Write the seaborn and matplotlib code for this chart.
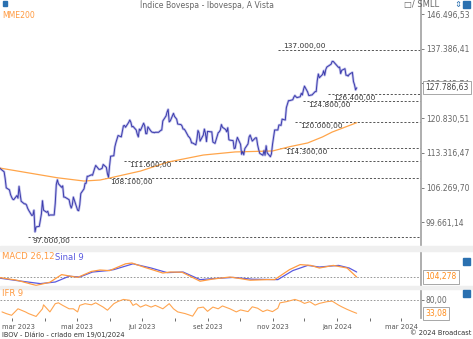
import matplotlib
matplotlib.use("Agg")
import matplotlib.pyplot as plt
import matplotlib.patches as mpatches
from matplotlib.ticker import NullLocator, FixedLocator
from matplotlib.transforms import ScaledTranslation
import numpy as np
import pandas as pd
import seaborn as sns

# ---------------- data ----------------
# daily closes, in thousand points, per month
feb23_days = [17, 22, 23, 24, 27, 28]
feb23_close = [110.3, 109.4, 108.0, 106.2, 105.8, 104.9]
mar23_days = [1, 2, 3, 6, 7, 8, 9, 10, 13, 14, 15, 16, 17, 20, 21, 22, 23, 24, 27, 28, 29, 30, 31]
mar23_close = [104.4, 104.0, 103.9, 104.7, 104.2, 106.5, 105.1, 103.6, 103.1, 103.1, 102.9, 102.3,
               101.9, 100.9, 101.0, 101.9, 97.9, 98.8, 98.9, 100.0, 101.2, 103.7, 101.9]
apr23_days = [3, 4, 5, 6, 10, 11, 12, 13, 14, 17, 18, 19, 20, 24, 25, 26, 27, 28]
apr23_close = [101.5, 101.7, 100.9, 101.0, 101.0, 103.2, 106.9, 107.8, 107.0, 106.3, 106.6, 104.4,
               104.4, 103.9, 102.9, 102.3, 102.9, 104.4]
may23_days = [2, 3, 4, 5, 8, 9, 10, 11, 12, 15, 16, 17, 18, 19, 22, 23, 24, 25, 26, 29, 30, 31]
may23_close = [101.9, 101.8, 102.9, 105.1, 106.0, 107.1, 107.1, 108.5, 108.5, 108.8, 108.7, 109.4,
               110.1, 110.7, 109.9, 109.9, 110.0, 110.1, 110.9, 110.3, 109.0, 108.3]
jun23_days = [1, 2, 5, 6, 7, 9, 12, 13, 14, 15, 16, 19, 20, 21, 22, 23, 26, 27, 28, 29, 30]
jun23_close = [110.6, 112.6, 112.7, 114.6, 115.5, 117.0, 116.7, 117.9, 119.1, 119.2, 118.8, 119.9,
               120.4, 119.9, 118.9, 119.0, 118.2, 117.3, 116.7, 118.4, 118.1]
jul23_days = [3, 4, 5, 6, 7, 10, 11, 12, 13, 14, 17, 18, 19, 20, 21, 24, 25, 26, 27, 28, 31]
jul23_close = [119.7, 119.1, 117.4, 117.4, 118.9, 117.9, 117.7, 117.7, 117.6, 117.7, 117.7, 117.9,
               118.1, 118.2, 120.2, 121.3, 122.2, 122.8, 120.0, 120.2, 121.9]
aug23_days = [1, 2, 3, 4, 7, 8, 9, 10, 11, 14, 15, 16, 17, 18, 21, 22, 23, 24, 25, 28, 29, 30, 31]
aug23_close = [121.2, 120.9, 120.6, 119.5, 119.4, 119.1, 118.4, 118.4, 118.1, 116.8, 116.6, 116.2,
               115.4, 115.4, 115.0, 116.2, 118.1, 117.6, 115.8, 117.1, 118.4, 117.5, 115.7]
sep23_days = [1, 4, 5, 6, 8, 11, 12, 13, 14, 15, 18, 19, 20, 21, 22, 25, 26, 27, 28, 29]
sep23_close = [117.9, 117.8, 117.8, 115.6, 115.3, 117.6, 117.8, 118.2, 119.4, 118.8, 118.3, 117.8,
               118.7, 116.1, 116.0, 115.9, 114.2, 114.3, 115.7, 116.6]
oct23_days = [2, 3, 4, 5, 6, 9, 10, 11, 13, 16, 17, 18, 19, 20, 23, 24, 25, 26, 27, 30, 31]
oct23_close = [115.1, 113.0, 113.6, 112.9, 114.2, 115.2, 116.7, 117.1, 115.8, 116.5, 116.5, 115.0,
               114.0, 113.2, 112.8, 113.8, 112.8, 114.8, 113.3, 112.5, 113.1]
nov23_days = [1, 3, 6, 7, 8, 9, 10, 13, 14, 16, 17, 20, 21, 22, 23, 24, 27, 28, 29, 30]
nov23_close = [115.1, 118.2, 118.2, 119.3, 119.3, 119.2, 120.6, 120.4, 123.2, 124.8, 124.8, 125.0,
               125.6, 126.0, 125.7, 125.5, 125.7, 126.5, 126.1, 127.3]
dec23_days = [1, 4, 5, 6, 7, 8, 11, 12, 13, 14, 15, 18, 19, 20, 21, 22, 26, 27, 28]
dec23_close = [128.2, 126.8, 126.0, 126.0, 126.1, 126.1, 126.9, 126.9, 129.5, 131.1, 130.2, 131.0,
               131.9, 130.8, 132.2, 132.8, 133.5, 134.2, 134.2]
jan24_days = [2, 3, 4, 5, 8, 9, 10, 11, 12, 15, 16, 17, 18, 19]
jan24_close = [132.7, 132.8, 131.2, 132.0, 132.4, 130.8, 130.8, 130.6, 131.0, 131.5, 129.3, 128.5,
               127.3, 127.78663]

# 200-day exponential moving average
mme_dates = ["2023-02-17", "2023-04-13", "2023-05-08", "2023-05-23", "2023-06-01", "2023-06-30",
             "2023-07-26", "2023-08-28", "2023-09-27", "2023-11-01", "2023-11-17", "2023-12-04",
             "2023-12-18", "2023-12-27", "2024-01-19"]
mme_values = [110200, 108200, 107550, 107750, 108150, 109550, 111400, 112850, 113500, 113700,
              114600, 115400, 116700, 117750, 119800]

# support / resistance levels and where they start
level_values = [137000, 126400, 124800, 120000, 114300, 111600, 108100, 97000]
level_start = ["2023-11-06", "2023-12-23", "2023-11-30", "2023-11-22", "2023-11-08",
               "2023-06-15", "2023-05-28", "2023-03-16"]
level_label_above = [True, False, False, False, False, False, False, False]

# right axis ticks
price_ticks = [99661.14, 106269.70, 113316.47, 120830.51, 128842.74, 137386.41, 146496.53]
last_price = 127786.63

# MACD 26,12 and signal 9
macd_dates = ["2023-02-17", "2023-03-06", "2023-03-24", "2023-04-06", "2023-04-17", "2023-05-02",
              "2023-05-15", "2023-05-23", "2023-06-01", "2023-06-16", "2023-06-22", "2023-07-03",
              "2023-07-21", "2023-07-28", "2023-08-08", "2023-08-25", "2023-09-06", "2023-09-22",
              "2023-10-02", "2023-10-11", "2023-10-27", "2023-11-03", "2023-11-17", "2023-11-27",
              "2023-12-07", "2023-12-15", "2023-12-28", "2024-01-10", "2024-01-19"]
macd_values = [0, -700, -2000, -1200, 700, 0, 1500, 1850, 1700, 3400, 3600, 2600, 1100, 1350, 1300,
               -950, -400, 100, -300, -700, -550, -550, 1950, 3200, 3000, 2350, 3000, 2350, 104.278]
signal_dates = ["2023-02-17", "2023-03-09", "2023-03-28", "2023-04-11", "2023-04-24", "2023-05-04",
                "2023-05-16", "2023-05-30", "2023-06-05", "2023-06-23", "2023-07-10", "2023-07-25",
                "2023-08-09", "2023-08-25", "2023-09-06", "2023-09-25", "2023-10-13", "2023-11-06",
                "2023-11-20", "2023-12-04", "2023-12-15", "2024-01-02", "2024-01-12", "2024-01-19"]
signal_values = [-150, -900, -1550, -1150, 300, 100, 1350, 1700, 1950, 3400, 2350, 1200, 1350, -550,
                 -300, 0, -450, -550, 1700, 3000, 2600, 3000, 2350, 1350]
macd_last = 104.278

# IFR 9
ifr_dates = ["2023-02-20", "2023-02-24", "2023-03-01", "2023-03-07", "2023-03-14", "2023-03-17",
             "2023-03-24", "2023-03-30", "2023-03-31", "2023-04-06", "2023-04-11", "2023-04-14",
             "2023-04-18", "2023-04-24", "2023-04-28", "2023-05-02", "2023-05-04", "2023-05-09",
             "2023-05-15", "2023-05-19", "2023-05-26", "2023-05-30", "2023-06-05", "2023-06-09",
             "2023-06-14", "2023-06-20", "2023-06-23", "2023-06-26", "2023-06-30", "2023-07-05",
             "2023-07-10", "2023-07-14", "2023-07-21", "2023-07-27", "2023-07-31", "2023-08-04",
             "2023-08-11", "2023-08-18", "2023-08-23", "2023-08-28", "2023-09-01", "2023-09-06",
             "2023-09-11", "2023-09-15", "2023-09-22", "2023-09-28", "2023-10-02", "2023-10-09",
             "2023-10-13", "2023-10-18", "2023-10-23", "2023-10-27", "2023-11-01", "2023-11-06",
             "2023-11-08", "2023-11-14", "2023-11-20", "2023-11-22", "2023-11-27", "2023-12-01",
             "2023-12-06", "2023-12-11", "2023-12-15", "2023-12-22", "2023-12-27", "2024-01-02",
             "2024-01-05", "2024-01-10", "2024-01-15", "2024-01-19"]
ifr_values = [38, 32, 26, 49, 38, 32, 22, 49, 63, 38, 67, 70, 61, 49, 49, 38, 61, 67, 63, 70, 55, 44,
              67, 75, 82, 79, 61, 67, 55, 63, 55, 61, 49, 67, 49, 38, 32, 23, 52, 55, 40, 55, 49, 59,
              49, 38, 45, 39, 56, 51, 39, 45, 39, 51, 70, 74, 80, 82, 76, 68, 74, 62, 68, 74, 76, 62,
              56, 47, 39, 33.08]
ifr_level = 80

x_tick_dates = ["2023-03-01", "2023-04-01", "2023-05-01", "2023-06-01", "2023-07-01", "2023-08-01",
                "2023-09-01", "2023-10-01", "2023-11-01", "2023-12-01", "2024-01-01", "2024-02-01",
                "2024-03-01"]
x_tick_labels = ["mar 2023", "", "mai 2023", "", "jul 2023", "", "set 2023", "", "nov 2023", "",
                 "jan 2024", "", "mar 2024"]

# ---------------- frames ----------------
months = [("2023-02", feb23_days, feb23_close), ("2023-03", mar23_days, mar23_close),
          ("2023-04", apr23_days, apr23_close), ("2023-05", may23_days, may23_close),
          ("2023-06", jun23_days, jun23_close), ("2023-07", jul23_days, jul23_close),
          ("2023-08", aug23_days, aug23_close), ("2023-09", sep23_days, sep23_close),
          ("2023-10", oct23_days, oct23_close), ("2023-11", nov23_days, nov23_close),
          ("2023-12", dec23_days, dec23_close), ("2024-01", jan24_days, jan24_close)]
rows = []
for ym, ds, cs in months:
    for d, c in zip(ds, cs):
        rows.append((pd.Timestamp(f"{ym}-{d:02d}"), c * 1000.0))
price = pd.DataFrame(rows, columns=["date", "close"])
mme = pd.DataFrame({"date": pd.to_datetime(mme_dates), "v": mme_values})
macd = pd.DataFrame({"date": pd.to_datetime(macd_dates), "v": macd_values})
sig = pd.DataFrame({"date": pd.to_datetime(signal_dates), "v": signal_values})
ifr = pd.DataFrame({"date": pd.to_datetime(ifr_dates), "v": ifr_values})


def br(v, nd=2):
    s = f"{v:,.{nd}f}"
    return s.replace(",", "_").replace(".", ",").replace("_", ".")


# ---------------- figure ----------------
sns.set_theme(style="white")
plt.rcParams["font.family"] = ["DejaVu Sans"]

W, H = 473, 339
fig = plt.figure(figsize=(W / 100, H / 100), dpi=100)
fig.patch.set_facecolor("white")


def rect(x0, y0, x1, y1):
    return [x0 / W, 1 - y1 / H, (x1 - x0) / W, (y1 - y0) / H]


ax = fig.add_axes(rect(0, 0, 421, 246))
axm = fig.add_axes(rect(0, 251, 421, 286), sharex=ax)
axi = fig.add_axes(rect(0, 289, 421, 318), sharex=ax)

# grey separator bands
for y0, y1 in [(246, 251), (286, 289)]:
    fig.patches.append(mpatches.Rectangle((0, 1 - y1 / H), 1, (y1 - y0) / H,
                                          transform=fig.transFigure, color="#efefef", zorder=0))

BLUE = "#3c3cac"
LAV = "#c2c2ec"
ORANGE = "#ffa54a"
GREY = "#666666"
AXC = "#a8a8a8"

xmin = pd.Timestamp("2023-02-18 03:00")
xmax = pd.Timestamp("2024-03-19 10:00")

# --- main price panel ---
ax.set_yscale("log")
sns.lineplot(data=price, x="date", y="close", ax=ax, color=LAV, lw=1.8, zorder=2)
sns.lineplot(data=price, x="date", y="close", ax=ax, color=BLUE, lw=0.7, zorder=3)
sns.lineplot(data=mme, x="date", y="v", ax=ax, color=ORANGE, lw=0.9, zorder=2.5)

for v, st, above in zip(level_values, level_start, level_label_above):
    s = pd.Timestamp(st)
    ax.hlines(v, s, xmax, colors="#555555", linestyles=(0, (2.2, 1.8)), lw=0.7, zorder=1)
    ax.annotate(br(v), xy=(s, v), xytext=(3.5, 0.6 if above else -0.8), textcoords="offset points",
                va="bottom" if above else "top", ha="left", fontsize=5.3, color="#333333")

ax.set_ylim(95368, 150341)
ax.set_xlim(xmin, xmax)
ax.yaxis.tick_right()
ax.yaxis.set_major_locator(FixedLocator(price_ticks))
ax.yaxis.set_minor_locator(NullLocator())
ax.set_yticklabels([br(t) for t in price_ticks])
ax.tick_params(axis="y", labelsize=5.5, colors=GREY, length=2, width=0.6, pad=1.5, direction="out")
ax.tick_params(axis="x", bottom=False, labelbottom=False)
ax.set_xlabel("")
ax.set_ylabel("")
for sp in ["top", "left", "bottom"]:
    ax.spines[sp].set_visible(False)
ax.spines["right"].set_color(AXC)
ax.spines["right"].set_linewidth(1.3)
ax.annotate(br(last_price), xy=(1.0, last_price), xycoords=("axes fraction", "data"),
            xytext=(3.2, 0), textcoords="offset points", va="center", ha="left", fontsize=5.5,
            color="#444444", annotation_clip=False, zorder=10,
            bbox=dict(boxstyle="square,pad=0.28", fc="white", ec="#999999", lw=0.6))

# --- MACD panel ---
sns.lineplot(data=sig, x="date", y="v", ax=axm, color="#5a5ae0", lw=0.9)
sns.lineplot(data=macd, x="date", y="v", ax=axm, color="#ff9a40", lw=0.9)
axm.axhline(macd_last, color="#888888", ls=(0, (2, 2)), lw=0.6, zorder=0)
axm.set_ylim(-2146, 6604)
axm.set_yticks([])
axm.set_xlabel("")
axm.set_ylabel("")
axm.tick_params(axis="x", bottom=False, labelbottom=False)
for sp in ["top", "left", "bottom"]:
    axm.spines[sp].set_visible(False)
axm.spines["right"].set_color(AXC)
axm.spines["right"].set_linewidth(1.3)
axm.annotate(br(macd_last, 3), xy=(1.0, macd_last), xycoords=("axes fraction", "data"),
             xytext=(3.2, 0), textcoords="offset points", va="center", ha="left", fontsize=5.5,
             color="#ff8c1a", annotation_clip=False,
             bbox=dict(boxstyle="square,pad=0.28", fc="white", ec="#999999", lw=0.6))

# --- IFR panel ---
sns.lineplot(data=ifr, x="date", y="v", ax=axi, color="#ffa550", lw=0.8)
axi.axhline(ifr_level, color="#888888", ls=(0, (2, 2)), lw=0.6, zorder=0)
axi.set_ylim(16.5, 118.8)
axi.yaxis.tick_right()
axi.set_yticks([ifr_level])
axi.set_yticklabels([br(ifr_level)])
axi.tick_params(axis="y", labelsize=5.5, colors=GREY, length=2, width=0.6, pad=1.5)
axi.set_xticks(pd.to_datetime(x_tick_dates))
axi.set_xticklabels(x_tick_labels)
axi.tick_params(axis="x", labelsize=4.9, colors="#555555", length=2.2, width=0.6, pad=1.8,
                direction="out", bottom=True)
first_lbl = axi.get_xticklabels()[0]
first_lbl.set_transform(first_lbl.get_transform() + ScaledTranslation(0.07, 0, fig.dpi_scale_trans))
axi.set_xlim(xmin, xmax)
axi.set_xlabel("")
axi.set_ylabel("")
for sp in ["top", "left", "bottom"]:
    axi.spines[sp].set_visible(False)
axi.spines["right"].set_color(AXC)
axi.spines["right"].set_linewidth(1.3)
axi.annotate(br(ifr_values[-1]), xy=(1.0, ifr_values[-1]), xycoords=("axes fraction", "data"),
             xytext=(3.2, 0), textcoords="offset points", va="center", ha="left", fontsize=5.5,
             color="#ff8c1a", annotation_clip=False,
             bbox=dict(boxstyle="square,pad=0.28", fc="white", ec="#999999", lw=0.6))

# --- texts & small icons ---
def ftext(x, y, s, **kw):
    fig.text(x / W, 1 - y / H, s, **kw)

ftext(207, 5, "Índice Bovespa - Ibovespa, A Vista", ha="center", va="center", fontsize=5.6, color=GREY)
ftext(2, 15.5, "MME200", ha="left", va="center", fontsize=5.6, color="#ff9a40")
ftext(404, 5, "□/ SMLL", ha="left", va="center", fontsize=6.0, color=GREY)
ftext(2, 257, "MACD 26,12", ha="left", va="center", fontsize=6.1, color="#ff9a40")
ftext(55, 257, "Sinal 9", ha="left", va="center", fontsize=6.1, color="#5a5ae0")
ftext(2, 293, "IFR 9", ha="left", va="center", fontsize=6.0, color="#ff9a40")
ftext(2, 334.5, "IBOV - Diário - criado em 19/01/2024", ha="left", va="center", fontsize=4.75, color="#333333")
ftext(471, 333, "© 2024 Broadcast", ha="right", va="center", fontsize=4.8, color="#333333")

ICON = "#2a70b0"
for (x0, y0, w, h) in [(3, 1, 4, 5), (463, 1, 7, 7), (463, 258, 7, 7), (463, 290, 7, 7)]:
    fig.patches.append(mpatches.Rectangle((x0 / W, 1 - (y0 + h) / H), w / W, h / H,
                                          transform=fig.transFigure, color=ICON, zorder=5))
ftext(457.5, 4.5, "⇕", ha="center", va="center", fontsize=6, color=ICON)

fig.savefig("out.png", dpi=100)
